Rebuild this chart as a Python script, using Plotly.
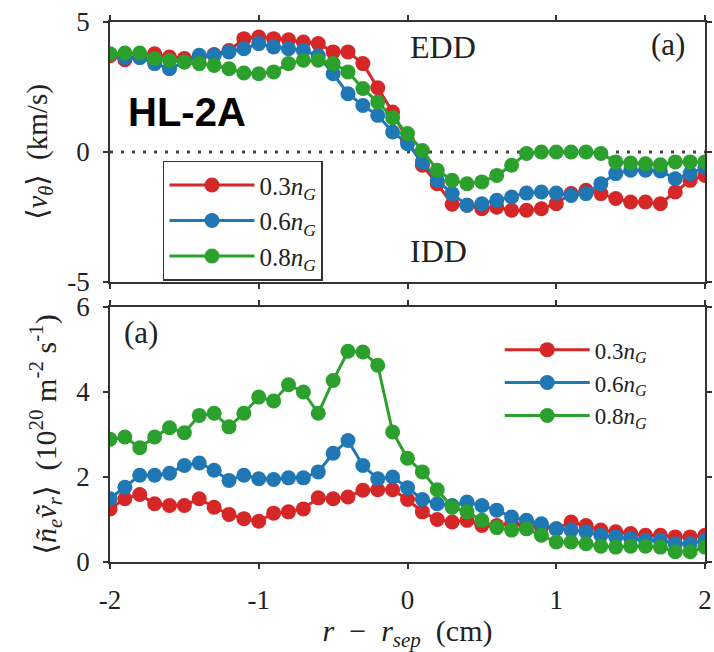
import plotly.graph_objects as go
from plotly.subplots import make_subplots

x = [round(-2.0 + 0.1 * i, 1) for i in range(41)]

# top panel: <v_theta> (km/s)
v_03 = [3.70, 3.55, 3.65, 3.78, 3.65, 3.60, 3.65, 3.75, 3.90, 4.36,
        4.42, 4.36, 4.32, 4.23, 4.17, 3.85, 3.85, 3.40, 2.47, 1.54,
        0.45, -0.51, -1.22, -2.01, -2.05, -2.18, -2.12, -2.24, -2.24, -2.18,
        -1.99, -1.60, -1.47, -1.60, -1.79, -1.92, -1.92, -1.99, -1.54, -1.09,
        -0.90]
v_06 = [3.75, 3.63, 3.63, 3.40, 3.20, 3.46, 3.72, 3.72, 3.85, 3.97,
        4.17, 4.04, 3.97, 3.91, 3.70, 3.01, 2.24, 1.79, 1.41, 0.77,
        0.32, -0.38, -1.09, -1.60, -2.05, -1.99, -1.86, -1.73, -1.58, -1.54,
        -1.58, -1.67, -1.60, -1.22, -0.83, -0.70, -0.70, -0.73, -1.03, -0.83,
        -0.58]
v_08 = [3.78, 3.81, 3.81, 3.59, 3.53, 3.46, 3.40, 3.33, 3.20, 3.04,
        3.01, 3.08, 3.40, 3.53, 3.53, 3.40, 3.08, 2.44, 1.92, 1.32,
        0.71, 0.06, -0.70, -1.09, -1.22, -1.15, -0.90, -0.51, -0.06, 0.00,
        0.00, 0.00, 0.00, -0.06, -0.38, -0.42, -0.45, -0.49, -0.38, -0.38,
        -0.38]

# bottom panel: <n_e v_r> (1e20 m^-2 s^-1)
f_03 = [1.25, 1.49, 1.59, 1.37, 1.33, 1.33, 1.49, 1.29, 1.12, 1.02,
        0.96, 1.15, 1.18, 1.25, 1.51, 1.49, 1.53, 1.69, 1.70, 1.70,
        1.47, 1.18, 1.00, 0.94, 0.98, 0.86, 0.86, 0.90, 0.86, 0.82,
        0.78, 0.94, 0.86, 0.75, 0.71, 0.67, 0.63, 0.63, 0.59, 0.59,
        0.63]
f_06 = [1.49, 1.76, 2.04, 2.04, 2.09, 2.27, 2.33, 2.16, 1.92, 2.04,
        1.96, 1.94, 1.98, 1.98, 2.12, 2.56, 2.86, 2.27, 1.96, 2.00,
        1.75, 1.47, 1.37, 1.33, 1.41, 1.33, 1.22, 1.06, 0.98, 0.90,
        0.78, 0.75, 0.71, 0.63, 0.59, 0.55, 0.51, 0.51, 0.43, 0.43,
        0.51]
f_08 = [2.89, 2.94, 2.69, 2.94, 3.16, 3.04, 3.45, 3.50, 3.18, 3.50,
        3.88, 3.79, 4.17, 4.00, 3.50, 4.27, 4.96, 4.94, 4.63, 3.06,
        2.44, 2.12, 1.70, 1.29, 1.18, 0.98, 0.81, 0.75, 0.78, 0.63,
        0.47, 0.47, 0.43, 0.37, 0.35, 0.37, 0.37, 0.35, 0.24, 0.24,
        0.35]

labels = ["0.3<i>n</i><sub><i>G</i></sub>", "0.6<i>n</i><sub><i>G</i></sub>",
          "0.8<i>n</i><sub><i>G</i></sub>"]
colors = ["#d62728", "#1f77b4", "#2ca02c"]

xticks = [-2, -1, 0, 1, 2]
xticktext = ["-2", "-1", "0", "1", "2"]
y1ticks = [-5, 0, 5]
y1ticktext = ["-5", "0", "5"]
y2ticks = [0, 2, 4, 6]
y2ticktext = ["0", "2", "4", "6"]

SERIF = "Liberation Serif, DejaVu Serif, serif"
TXT = "#222222"

fig = make_subplots(rows=2, cols=1)

# zero reference line
fig.add_trace(go.Scatter(x=[-2, 2], y=[0, 0], mode="lines",
                         line=dict(color="#444444", width=3, dash="3px,8px"),
                         showlegend=False, hoverinfo="skip"), row=1, col=1)

for ys, lab, c in zip([v_03, v_06, v_08], labels, colors):
    fig.add_trace(go.Scatter(x=x, y=ys, mode="lines+markers", name=lab,
                             line=dict(color=c, width=3),
                             marker=dict(color=c, size=15),
                             legend="legend"), row=1, col=1)
for ys, lab, c in zip([f_03, f_06, f_08], labels, colors):
    fig.add_trace(go.Scatter(x=x, y=ys, mode="lines+markers", name=lab,
                             line=dict(color=c, width=3),
                             marker=dict(color=c, size=15),
                             legend="legend2"), row=2, col=1)

axis_common = dict(showline=True, linecolor="#333333", linewidth=1.5,
                   mirror="ticks", ticks="outside", ticklen=5, tickwidth=1.5,
                   tickcolor="#333333", showgrid=False, zeroline=False,
                   automargin=False,
                   tickfont=dict(family=SERIF, size=27, color=TXT))

fig.update_xaxes(range=[-2, 2], tickvals=xticks, ticktext=xticktext,
                 ticklabelstandoff=8, **axis_common)
fig.update_xaxes(showticklabels=False, row=1, col=1)
fig.update_xaxes(title=dict(text="<i>r</i>  −  <i>r</i><sub><i>sep</i></sub>  (cm)",
                            font=dict(family=SERIF, size=30, color=TXT),
                            standoff=6), row=2, col=1)
fig.update_yaxes(range=[-5, 5], tickvals=y1ticks, ticktext=y1ticktext,
                 ticklabelstandoff=8,
                 title=dict(text="⟨<i>v</i><sub><i>θ</i></sub>⟩  (km/s)",
                            font=dict(family=SERIF, size=29, color=TXT),
                            standoff=11),
                 **axis_common, row=1, col=1)
fig.update_yaxes(range=[0, 6], tickvals=y2ticks, ticktext=y2ticktext,
                 ticklabelstandoff=8,
                 title=dict(text="⟨<i>ñ</i><sub><i>e</i></sub><i>ṽ</i><sub><i>r</i></sub>⟩  (10<sup>20</sup> m<sup>-2</sup> s<sup>-1</sup>)",
                            font=dict(family=SERIF, size=30, color=TXT),
                            standoff=11),
                 **axis_common, row=2, col=1)

fig.update_layout(
    xaxis=dict(domain=[0, 1]),
    yaxis=dict(domain=[0.5185, 1.0]),
    xaxis2=dict(domain=[0, 1]),
    yaxis2=dict(domain=[0.0, 0.4722]),
)

fig.update_layout(
    width=714, height=652,
    margin=dict(l=110, r=9, t=22, b=90, autoexpand=False),
    paper_bgcolor="white", plot_bgcolor="white",
    showlegend=True,
    legend=dict(x=0.089, y=0.743, xref="paper", yref="paper", xanchor="left", yanchor="top",
                bgcolor="white", bordercolor="#333333", borderwidth=1.5,
                font=dict(family=SERIF, size=25, color=TXT),
                itemwidth=85, tracegroupgap=0),
    legend2=dict(x=0.655, y=0.433, xref="paper", yref="paper", xanchor="left", yanchor="top",
                 bgcolor="rgba(0,0,0,0)", borderwidth=0,
                 font=dict(family=SERIF, size=23, color=TXT),
                 itemwidth=85),
    annotations=[
        dict(text="EDD", x=0.0, y=4.05, xref="x", yref="y", xanchor="left", yanchor="middle",
             showarrow=False, font=dict(family=SERIF, size=32, color=TXT)),
        dict(text="(a)", x=1.88, y=4.15, xref="x", yref="y", xanchor="right", yanchor="middle",
             showarrow=False, font=dict(family=SERIF, size=31, color=TXT)),
        dict(text="IDD", x=0.0, y=-3.8, xref="x", yref="y", xanchor="left", yanchor="middle",
             showarrow=False, font=dict(family=SERIF, size=32, color=TXT)),
        dict(text="<b>HL-2A</b>", x=-1.89, y=1.55, xref="x", yref="y", xanchor="left", yanchor="middle",
             showarrow=False, font=dict(family="Liberation Sans, Arial, sans-serif", size=40, color="black")),
        dict(text="(a)", x=-1.92, y=5.4, xref="x2", yref="y2", xanchor="left", yanchor="middle",
             showarrow=False, font=dict(family=SERIF, size=31, color=TXT)),
    ],
)

fig.write_html("out.html")
